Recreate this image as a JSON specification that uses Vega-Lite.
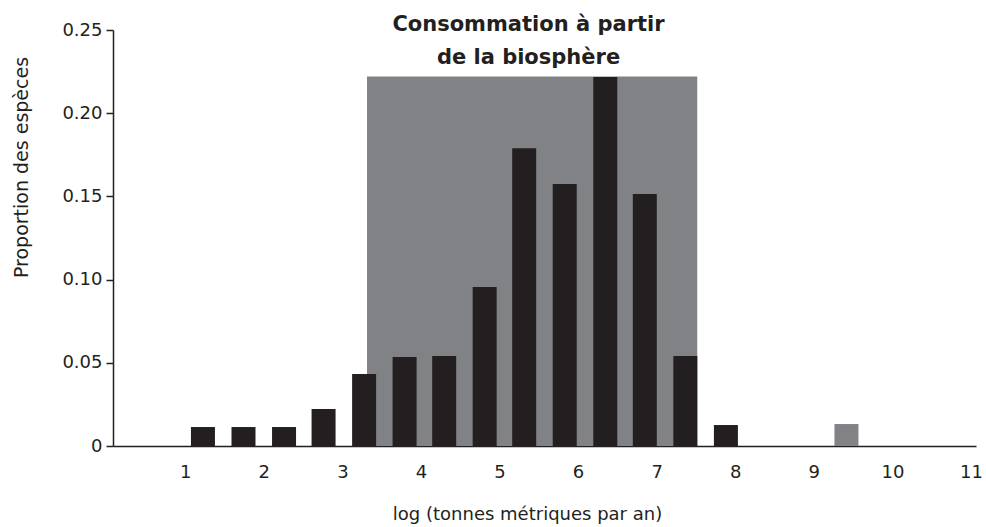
{
  "$schema": "https://vega.github.io/schema/vega-lite/v6.json",
  "autosize": {"type": "none"},
  "padding": {"left": 113, "top": 30, "right": 10, "bottom": 81},
  "width": 863,
  "height": 416,
  "background": "white",
  "config": {
    "view": {"stroke": null},
    "font": "DejaVu Sans",
    "axis": {"grid": false, "labelFont": "DejaVu Sans", "titleFont": "DejaVu Sans", "labelColor": "#231f20", "titleColor": "#231f20", "domainColor": "#231f20", "tickColor": "#231f20", "domainWidth": 1.5, "labelFontSize": 18, "titleFontSize": 18, "titleFontWeight": "normal"}
  },
  "title": {
    "text": ["Consommation à partir", "de la biosphère"],
    "font": "DejaVu Sans",
    "fontSize": 21,
    "fontWeight": "bold",
    "color": "#231f20",
    "lineHeight": 33,
    "anchor": "middle",
    "frame": "group",
    "dx": -16,
    "dy": 47,
    "offset": 0
  },
  "layer": [
    {
      "data": {"values": [{"start": 3.314, "end": 7.516, "top": 0.222}]},
      "mark": {"type": "rect", "color": "#808285"},
      "encoding": {
        "x": {"field": "start", "type": "quantitative", "scale": {"domain": [0.145, 11], "nice": false, "zero": false}},
        "x2": {"field": "end"},
        "y": {"field": "top", "type": "quantitative", "scale": {"domain": [0, 0.25], "nice": false}},
        "y2": {"datum": 0}
      }
    },
    {
      "data": {"values": [
        {"x": 1.226, "p": 0.0114, "g": "noir"},
        {"x": 1.742, "p": 0.0114, "g": "noir"},
        {"x": 2.258, "p": 0.0114, "g": "noir"},
        {"x": 2.761, "p": 0.0222, "g": "noir"},
        {"x": 3.277, "p": 0.0433, "g": "noir"},
        {"x": 3.792, "p": 0.0535, "g": "noir"},
        {"x": 4.296, "p": 0.0541, "g": "noir"},
        {"x": 4.811, "p": 0.0956, "g": "noir"},
        {"x": 5.314, "p": 0.179, "g": "noir"},
        {"x": 5.830, "p": 0.1575, "g": "noir"},
        {"x": 6.346, "p": 0.2218, "g": "noir"},
        {"x": 6.849, "p": 0.1514, "g": "noir"},
        {"x": 7.365, "p": 0.0541, "g": "noir"},
        {"x": 7.881, "p": 0.0126, "g": "noir"},
        {"x": 9.415, "p": 0.0132, "g": "gris"}
      ]},
      "mark": {"type": "bar", "size": 24},
      "encoding": {
        "x": {"field": "x", "type": "quantitative", "scale": {"domain": [0.145, 11], "nice": false, "zero": false},
          "axis": {"values": [1, 2, 3, 4, 5, 6, 7, 8, 9, 10, 11], "format": "d", "ticks": false, "labelPadding": 17, "labelFlush": false, "title": "log (tonnes métriques par an)", "titleX": 414, "titleY": 68, "titleBaseline": "middle", "titleAnchor": "start", "titleAlign": "center"}},
        "y": {"field": "p", "type": "quantitative", "scale": {"domain": [0, 0.25], "nice": false},
          "axis": {"values": [0, 0.05, 0.1, 0.15, 0.2, 0.25], "labelExpr": "datum.value == 0 ? '0' : format(datum.value, '.2f')", "tickSize": 7, "tickWidth": 1.5, "labelPadding": 4, "title": "Proportion des espèces", "titleFontSize": 19, "titleX": -92, "titleY": 137, "titleBaseline": "middle", "titleAlign": "center", "titleAngle": -90}},
        "color": {"field": "g", "type": "nominal", "scale": {"domain": ["noir", "gris"], "range": ["#231f20", "#808285"]}, "legend": null}
      }
    }
  ]
}
